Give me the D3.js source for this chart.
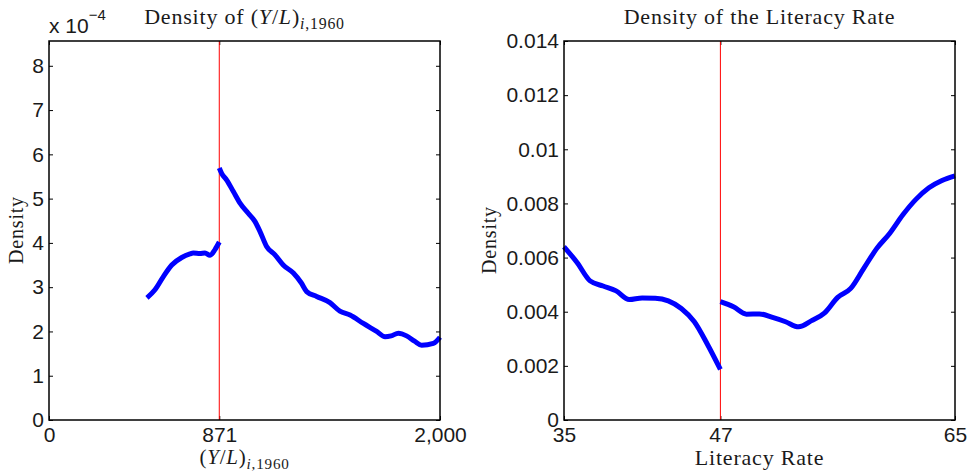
<!DOCTYPE html>
<html>
<head>
<meta charset="utf-8">
<script src="https://d3js.org/d3.v7.min.js"></script>
<style>
  body { margin: 0; background: #fff; }
  .tick text { font-family: "Liberation Sans", Arial, Helvetica, sans-serif; font-size: 21px; fill: #1a1a1a; }
  .tick line { stroke: #000; stroke-width: 1; }
  .serif { font-family: "Liberation Serif", "Times New Roman", serif; fill: #1a1a1a; letter-spacing: 0.8px; }
</style>
</head>
<body>
<div id="chart"></div>
<script>
  // left panel: income per worker, 1960
  const gdpTicks = [0, 871, 2000];
  const gdpDensityTicks = [0, 1e-4, 2e-4, 3e-4, 4e-4, 5e-4, 6e-4, 7e-4, 8e-4];
  const gdpBelowX = [501, 542, 585, 628, 679, 721, 738, 772, 798, 823, 849, 871];
  const gdpBelowY = [2.76, 2.94, 3.24, 3.50, 3.67, 3.75, 3.77, 3.76, 3.77, 3.72, 3.85, 4.02].map(v => v * 1e-4);
  const gdpAboveX = [871, 883, 909, 943, 977, 1019, 1054, 1080, 1113, 1156, 1198, 1250, 1290, 1318, 1369, 1437, 1488, 1540, 1608, 1676, 1719, 1750, 1787, 1829, 1870, 1906, 1966, 2000];
  const gdpAboveY = [5.69, 5.57, 5.42, 5.16, 4.90, 4.67, 4.48, 4.25, 3.92, 3.73, 3.50, 3.32, 3.10, 2.90, 2.79, 2.65, 2.46, 2.37, 2.18, 2.00, 1.88, 1.90, 1.96, 1.90, 1.78, 1.69, 1.73, 1.87].map(v => v * 1e-4);

  // right panel: literacy rate
  const litTicks = [35, 47, 65];
  const litDensityTicks = [0, 0.002, 0.004, 0.006, 0.008, 0.01, 0.012, 0.014];
  const litBelowX = [35, 36, 37, 38, 39, 40, 41, 42, 43, 44, 45, 46, 47];
  const litBelowY = [0.00640, 0.00582, 0.00514, 0.00495, 0.00477, 0.00445, 0.00451, 0.00450, 0.00440, 0.00412, 0.00363, 0.00280, 0.00187];
  const litAboveX = [47, 48, 49, 50, 51, 52, 53, 54, 55, 56, 57, 58, 59, 60, 61, 62, 63, 64, 65];
  const litAboveY = [0.00437, 0.00418, 0.00391, 0.00392, 0.00379, 0.00363, 0.00344, 0.00367, 0.00396, 0.00453, 0.00486, 0.00560, 0.00634, 0.00690, 0.00758, 0.00815, 0.00858, 0.00885, 0.00902];

  const width = 974, height = 473;
  const plotTop = 41, plotBottom = 420;

  const svg = d3.select("#chart").append("svg")
    .attr("width", width)
    .attr("height", height);

  function drawPanel(opt) {
    const x = d3.scaleLinear().domain(opt.xDomain).range([opt.left, opt.right]);
    const y = d3.scaleLinear().domain(opt.yDomain).range([plotBottom, plotTop]);
    const g = svg.append("g");

    // ticks pointing inward on all four sides
    g.append("g")
      .attr("transform", `translate(0,${plotBottom})`)
      .call(d3.axisBottom(x).tickValues(opt.xTicks).tickSize(-4).tickPadding(7).tickFormat(opt.xFormat));
    g.append("g")
      .attr("transform", `translate(0,${plotTop})`)
      .call(d3.axisTop(x).tickValues(opt.xTicks).tickSize(-4).tickFormat(""));
    g.append("g")
      .attr("transform", `translate(${opt.left},0)`)
      .call(d3.axisLeft(y).tickValues(opt.yTicks).tickSize(-4).tickPadding(5).tickFormat(opt.yFormat));
    g.append("g")
      .attr("transform", `translate(${opt.right},0)`)
      .call(d3.axisRight(y).tickValues(opt.yTicks).tickSize(-4).tickFormat(""));
    g.selectAll(".domain").remove();

    // cutoff line
    g.append("line")
      .attr("x1", x(opt.cutoff)).attr("x2", x(opt.cutoff))
      .attr("y1", plotTop).attr("y2", plotBottom)
      .attr("stroke", "#ff0000").attr("stroke-width", 1);

    const line = d3.line().x(d => x(d[0])).y(d => y(d[1])).curve(d3.curveMonotoneX);
    opt.segments.forEach(s => {
      g.append("path")
        .datum(d3.zip(s[0], s[1]))
        .attr("d", line)
        .attr("fill", "none")
        .attr("stroke", "#0000ff")
        .attr("stroke-width", 5)
        .attr("stroke-linejoin", "round");
    });

    g.append("rect")
      .attr("x", opt.left).attr("y", plotTop)
      .attr("width", opt.right - opt.left).attr("height", plotBottom - plotTop)
      .attr("fill", "none").attr("stroke", "#000").attr("stroke-width", 1.5);

    // y label
    g.append("text")
      .attr("class", "serif")
      .attr("transform", `translate(${opt.yLabelX},${opt.yLabelY}) rotate(-90)`)
      .attr("text-anchor", "middle")
      .attr("font-size", 20)
      .text("Density");

    return { g, cx: (opt.left + opt.right) / 2 };
  }

  // left panel
  const L = drawPanel({
    left: 49, right: 440,
    xDomain: [0, 2000], yDomain: [0, 8.56e-4],
    xTicks: gdpTicks, yTicks: gdpDensityTicks,
    xFormat: d3.format(","), yFormat: d => String(Math.round(d * 1e4)),
    cutoff: 871,
    segments: [[gdpBelowX, gdpBelowY], [gdpAboveX, gdpAboveY]],
    yLabelX: 23, yLabelY: 230
  });

  const sci = L.g.append("text")
    .attr("x", 49).attr("y", 33)
    .style("font-family", "'Liberation Sans', Arial, sans-serif")
    .style("font-size", "21px").style("fill", "#1a1a1a");
  sci.append("tspan").text("x 10");
  sci.append("tspan").attr("dy", -13).style("font-size", "15px").text("\u22124");

  function yl(sel, size) {
    sel.append("tspan").text("(");
    sel.append("tspan").attr("font-style", "italic").text("Y");
    sel.append("tspan").text("/");
    sel.append("tspan").attr("font-style", "italic").text("L");
    sel.append("tspan").text(")");
    sel.append("tspan").attr("dy", 5).attr("font-size", size * 0.72).attr("font-style", "italic").text("i");
    sel.append("tspan").attr("font-size", size * 0.72).text(",1960");
  }

  const t1 = L.g.append("text").attr("class", "serif")
    .attr("x", L.cx).attr("y", 24).attr("text-anchor", "middle").attr("font-size", 22);
  t1.append("tspan").text("Density of ");
  yl(t1, 22);

  const xl1 = L.g.append("text").attr("class", "serif")
    .attr("x", L.cx).attr("y", 464).attr("text-anchor", "middle").attr("font-size", 21);
  yl(xl1, 21);

  // right panel
  const R = drawPanel({
    left: 564, right: 955,
    xDomain: [35, 65], yDomain: [0, 0.014],
    xTicks: litTicks, yTicks: litDensityTicks,
    xFormat: d3.format("d"), yFormat: d => d === 0 ? "0" : d3.format(".3~f")(d),
    cutoff: 47,
    segments: [[litBelowX, litBelowY], [litAboveX, litAboveY]],
    yLabelX: 496, yLabelY: 240
  });

  R.g.append("text").attr("class", "serif")
    .attr("x", R.cx).attr("y", 24).attr("text-anchor", "middle").attr("font-size", 22)
    .text("Density of the Literacy Rate");

  R.g.append("text").attr("class", "serif")
    .attr("x", R.cx).attr("y", 465).attr("text-anchor", "middle").attr("font-size", 22)
    .text("Literacy Rate");
</script>
</body>
</html>
